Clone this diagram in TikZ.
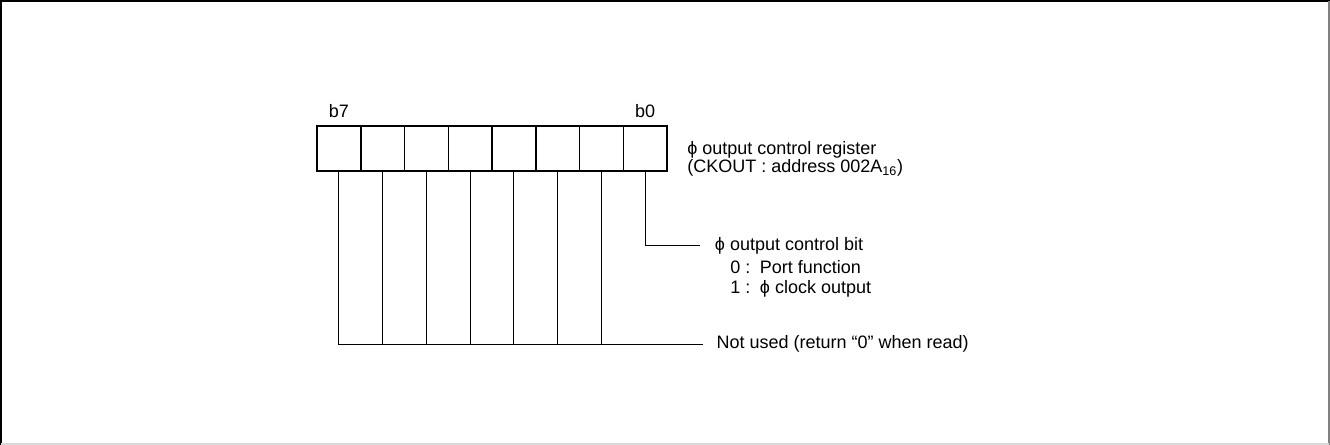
\documentclass[tikz,border=0pt]{standalone}
\usepackage{fontspec}
\setmainfont{Liberation Sans}
\usetikzlibrary{positioning}
\tikzstyle{bitcell} = [
    rectangle, draw=black, line width=1.1pt, minimum width=32.81pt,
    minimum height=33.75pt, inner sep=0pt, outer sep=0pt]
\tikzstyle{wire} = [line width=0.75pt]
\tikzstyle{desc} = [font=\fontsize{13.5}{13}\selectfont, inner sep=0pt, anchor=west, align=left]

\begin{document}
\begin{tikzpicture}[x=0.75pt, y=-0.75pt, node distance=0pt]
\useasboundingbox (0,0) rectangle (1330,445);
% frame
\draw [line width=1.5pt] (1,445) -- (1,1) -- (1330,1);
\draw [gray, line width=1pt] (1329,1) -- (1329,445);
\draw [black!15, line width=1pt] (1,444) -- (1329,444);

% register
\node (bit7) [bitcell] at (338.9,148.5) {};
\foreach \b [evaluate=\b as \p using int(\b+1)] in {6,...,0}
    \node (bit\b) [bitcell, right=of bit\p] {};
\draw [line width=1.6pt] (bit7.north west) rectangle (bit0.south east);

\node (hibit) [desc, anchor=south, above=6pt of bit7] {b7};
\node (lobit) [desc, anchor=south, above=6pt of bit0] {b0};
\node (regname) [desc] at (687,159) {ϕ output control register\\
    (CKOUT : address 002A\textsubscript{16})};

% bit lines
\coordinate (ctrlend) at (700,246);
\coordinate (unusedend) at (703,344);
\draw [wire] (bit0.south) |- (ctrlend);
\draw [wire] (bit7.south) |- (unusedend);
\foreach \b in {6,...,1}
    \draw [wire] (bit\b.south) -- (bit\b.south |- unusedend);

\node (ctrlbit) [desc, right=11pt of ctrlend] {ϕ output control bit};
\node (ctrlzero) [desc] at (730,267.5) {0 : \,Port function};
\node (ctrlone) [desc] at (730,289) {1 : \,ϕ clock output};
\node (unused) [desc, right=10pt of unusedend] {Not used (return “0” when read)};
\end{tikzpicture}
\end{document}
